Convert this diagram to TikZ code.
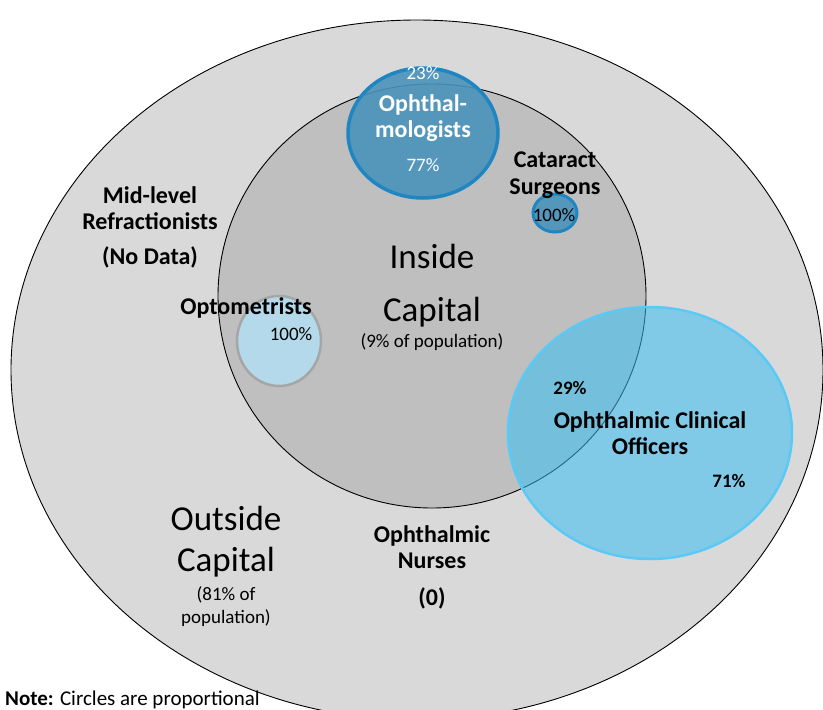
\documentclass[tikz,border=0pt]{standalone}
\usepackage{fontspec}
\setmainfont{Carlito}
\usepackage{xcolor}
\usepackage{tikz}
\usetikzlibrary{positioning}

\definecolor{outergray}{HTML}{D9D9D9}
\definecolor{innergray}{HTML}{BFBFBF}
\definecolor{ophfill}{HTML}{4A93BA}
\definecolor{ophline}{HTML}{1F86C2}
\definecolor{optfill}{HTML}{B4D9EA}
\definecolor{optline}{HTML}{A6A6A6}
\definecolor{ocofill}{HTML}{38BFF3}
\definecolor{ocoline}{HTML}{5BC9F6}

\begin{document}
\begin{tikzpicture}[x=1pt, y=-1pt,
        every node/.style={align=center, inner sep=0pt},
        region/.style={draw=black, line width=0.9pt},
        lbl/.style={font=\fontsize{24}{26.5}\selectfont\bfseries},
        big/.style={font=\fontsize{35}{40}\selectfont},
        pct/.style={font=\fontsize{19}{23}\selectfont},
        pctb/.style={font=\fontsize{19}{23}\selectfont\bfseries}
    ]
        \useasboundingbox (0,0) rectangle (823,710);

        % population regions
        \draw [region, fill=outergray] (417,370) ellipse [x radius=406, y radius=350];
        \draw [region, fill=innergray] (432,296) ellipse [x radius=214, y radius=212];

        % workforce circles
        \draw [ophline, line width=3.5pt, fill=ophfill, fill opacity=0.9] (423,133) ellipse [x radius=75, y radius=65];
        \draw [ophline, line width=3pt, fill=ophfill, fill opacity=0.9] (555,213) ellipse [x radius=22, y radius=19];
        \draw [optline, line width=2.5pt, fill=optfill] (279,341) ellipse [x radius=42, y radius=45];
        \draw [ocoline, line width=2.5pt, fill=ocofill, fill opacity=0.55] (650,433) ellipse [x radius=142, y radius=126];

        \node [pct, white] (oph23) at (423,73) {23\%};
        \node [lbl, white] (oph) at (423,118) {Ophthal-\\mologists};
        \node [pct, white] (oph77) at (423,165) {77\%};

        \node [lbl] (cat) at (555,175) {Cataract\\Surgeons};
        \node [pct] (cat100) at (554,215) {100\%};

        \node [big] (inside) at (432,256) {Inside};
        \node [big] (incap) at (432,312) {Capital};
        \node [pct] (inpop) at (432,342) {(9\% of population)};

        \node [lbl] (midlvl) at (150,227) {Mid-level\\Refractionists\\[8pt](No Data)};

        \node [lbl] (opt) at (246,308) {Optometrists};
        \node [pct] (opt100) at (291,334) {100\%};

        \node [big] (outside) at (226,518) {Outside};
        \node [big] (outcap) at (226,562) {Capital};
        \node [pct] (outpop) at (226,607) {(81\% of\\population)};

        \node [lbl] (nurse) at (432,567) {Ophthalmic\\Nurses\\[10pt](0)};

        \node [pctb] (oco29) at (570,388) {29\%};
        \node [lbl] (oco) at (650,433) {Ophthalmic Clinical\\Officers};
        \node [pctb] (oco71) at (729,481) {71\%};

        \node [anchor=base west, font=\fontsize{21}{24}\selectfont] (note) at (5,705) {\textbf{Note:} Circles are proportional};
    \end{tikzpicture}
\end{document}
